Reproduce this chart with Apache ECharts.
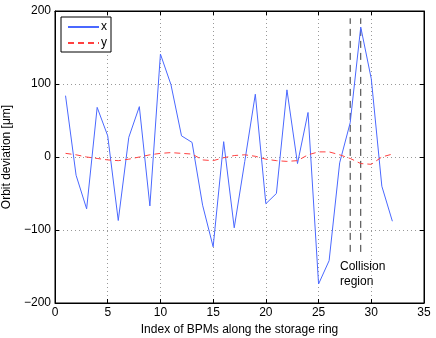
<!DOCTYPE html>
<html>
<head>
<meta charset="utf-8">
<script src="https://cdn.jsdelivr.net/npm/echarts@6/dist/echarts.min.js"></script>
<style>
  html, body { margin: 0; padding: 0; background: #fff; }
  #chart { width: 436px; height: 338px; }
</style>
</head>
<body>
<div id="chart"></div>
<script>
// BPM index 1..32
var bpmIndex = [1, 2, 3, 4, 5, 6, 7, 8, 9, 10, 11, 12, 13, 14, 15, 16,
  17, 18, 19, 20, 21, 22, 23, 24, 25, 26, 27, 28, 29, 30, 31, 32];
var xOrbit = [84, -25, -71, 68, 29, -87, 27, 69, -67, 141, 99, 29, 20, -66, -123, 21,
  -97, -6, 86, -64, -50, 92, -9, 61, -174, -142, -8, 47, 178, 107, -40, -88];
var yOrbit = [5, 3, 0, -2, -4, -5, -3, 0, 3, 5, 6, 5, 4, -4, -5, -1,
  2, 3, 1, -3, -5, -6, -5, 3, 7, 7, 3, -2, -9, -10, 0, 4];
var collisionBpms = [28, 29];
var collisionSpan = [-130, 190];
var xTicks = [0, 35, 5];
var yTicks = [-200, 200, 100];

var font = "'Liberation Sans', Arial, sans-serif";

function pairs(xs, ys) {
  var out = [];
  for (var i = 0; i < xs.length; i++) out.push([xs[i], ys[i]]);
  return out;
}
function minus(v) {
  return String(v).replace('-', '\u2212');
}

var chart = echarts.init(document.getElementById('chart'));

var series = [
  {
    name: 'x',
    type: 'line',
    data: pairs(bpmIndex, xOrbit),
    showSymbol: false,
    symbol: 'none',
    lineStyle: { color: '#4a68ff', width: 1 },
    itemStyle: { color: '#4a68ff' },
    z: 3
  },
  {
    name: 'y',
    type: 'line',
    data: pairs(bpmIndex, yOrbit),
    showSymbol: false,
    symbol: 'none',
    lineStyle: { color: '#ff4040', width: 1, type: [6, 4] },
    itemStyle: { color: '#ff4040' },
    z: 3
  }
];
// dashed markers for the collision region
collisionBpms.forEach(function (b) {
  series.push({
    type: 'line',
    data: [[b, collisionSpan[0]], [b, collisionSpan[1]]],
    showSymbol: false,
    symbol: 'none',
    silent: true,
    lineStyle: { color: '#333', width: 1, type: [7, 5] },
    z: 2
  });
});

var option = {
  animation: false,
  textStyle: { fontFamily: font },
  grid: {
    left: 55, right: 12, top: 11, bottom: 35,
    outerBoundsMode: 'none',
    containLabel: false,
    show: true, borderColor: '#000', borderWidth: 1
  },
  legend: {
    data: ['x', 'y'],
    orient: 'vertical',
    left: 61, top: 17,
    itemWidth: 31, itemHeight: 10, itemGap: 4,
    padding: [4, 4, 3, 6],
    borderColor: '#000', borderWidth: 1,
    backgroundColor: '#fff',
    itemStyle: { opacity: 0 },
    textStyle: { fontSize: 12, color: '#000', fontFamily: font, padding: [0, 0, 0, -3] }
  },
  xAxis: [
    {
      type: 'value',
      min: xTicks[0], max: xTicks[1], interval: xTicks[2],
      name: 'Index of BPMs along the storage ring',
      nameLocation: 'middle', nameGap: 20,
      nameTextStyle: { fontSize: 12, color: '#000' },
      axisLine: { onZero: false, lineStyle: { color: '#000' } },
      axisTick: { inside: true, length: 4, lineStyle: { color: '#000' } },
      axisLabel: { fontSize: 12, color: '#000', margin: 4 },
      splitLine: { show: true, lineStyle: { color: '#999', type: [1, 3] } }
    },
    {
      type: 'value', position: 'top',
      min: xTicks[0], max: xTicks[1], interval: xTicks[2],
      axisLine: { onZero: false, lineStyle: { color: '#000' } },
      axisTick: { inside: true, length: 4, lineStyle: { color: '#000' } },
      axisLabel: { show: false },
      splitLine: { show: false }
    }
  ],
  yAxis: [
    {
      type: 'value',
      min: yTicks[0], max: yTicks[1], interval: yTicks[2],
      name: 'Orbit deviation [\u03bcm]',
      nameLocation: 'middle', nameGap: 35,
      nameTextStyle: { fontSize: 12, color: '#000' },
      axisLine: { onZero: false, lineStyle: { color: '#000' } },
      axisTick: { inside: true, length: 4, lineStyle: { color: '#000' } },
      axisLabel: { fontSize: 12, color: '#000', margin: 4, formatter: minus },
      splitLine: { show: true, lineStyle: { color: '#999', type: [1, 3] } }
    },
    {
      type: 'value', position: 'right',
      min: yTicks[0], max: yTicks[1], interval: yTicks[2],
      axisLine: { onZero: false, lineStyle: { color: '#000' } },
      axisTick: { inside: true, length: 4, lineStyle: { color: '#000' } },
      axisLabel: { show: false },
      splitLine: { show: false }
    }
  ],
  graphic: [
    {
      type: 'text',
      left: 340, top: 259,
      style: {
        text: 'Collision\nregion',
        fill: '#000',
        font: '12px ' + font,
        lineHeight: 15
      }
    }
  ],
  series: series
};

chart.setOption(option);
</script>
</body>
</html>
